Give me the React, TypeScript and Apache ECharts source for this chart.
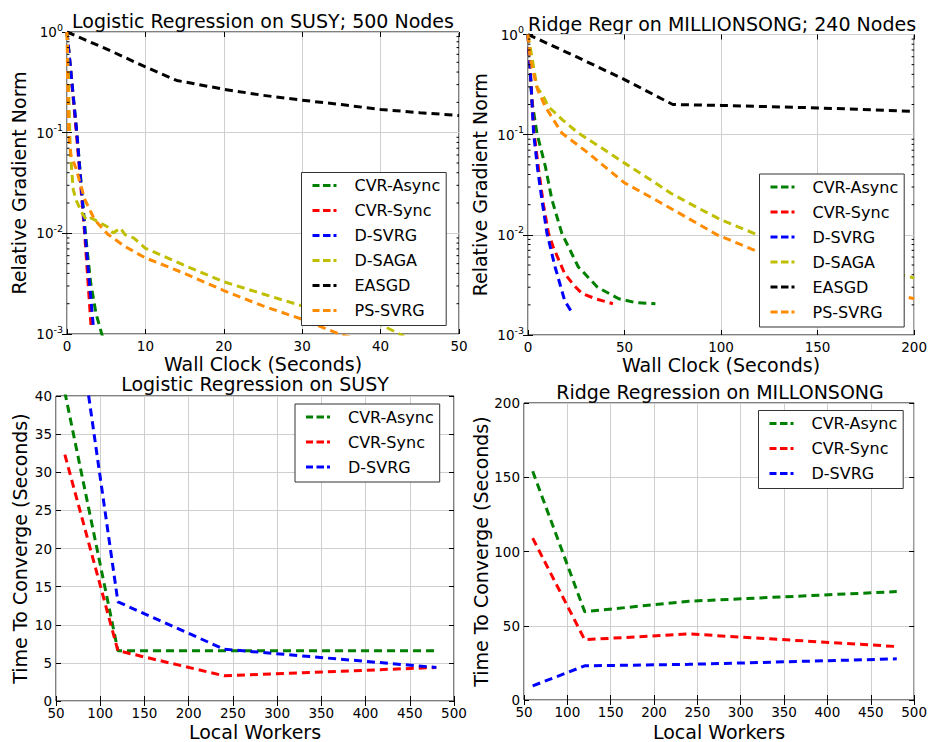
import React, { useEffect, useRef } from 'react';
import * as echarts from 'echarts';

const FONT = 'DejaVu Sans';

// ---------- data ----------
const algNames = ['CVR-Async', 'CVR-Sync', 'D-SVRG', 'D-SAGA', 'EASGD', 'PS-SVRG'];
const algColors = ['#008000', '#ff0000', '#0000ff', '#bfbf00', '#000000', '#ff8c00'];

const titles = [
  'Logistic Regression on SUSY; 500 Nodes',
  'Ridge Regr on MILLIONSONG; 240 Nodes',
  'Logistic Regression on SUSY',
  'Ridge Regression on MILLONSONG',
];

// Panel 1: SUSY, relative gradient norm vs wall clock (s)
const susyAsync = [[0, 1], [1.25, 0.1], [2.35, 0.01], [3.0, 0.0033], [3.7, 0.0016], [4.6, 0.0009]];
const susySync = [[0, 1], [1.2, 0.1], [2.25, 0.01], [3.1, 0.0011]];
const susyDsvrg = [[0, 1], [1.25, 0.1], [2.3, 0.01], [3.4, 0.0011]];
const susyDsaga = [[0, 1], [0.2, 0.3], [0.35, 0.1], [0.45, 0.06], [0.8, 0.027], [1.2, 0.021], [1.9, 0.016], [2.5, 0.0135],
  [3.1, 0.0142], [4, 0.013], [5.1, 0.0117], [5.9, 0.0101], [6.8, 0.0113], [7.4, 0.0097], [8.5, 0.009], [10, 0.0071],
  [15, 0.0048], [20, 0.0033], [25, 0.0025], [30, 0.0019], [35, 0.0015], [40, 0.00124], [43, 0.00095]];
const susyEasgd = [[0, 1], [5, 0.68], [10, 0.45], [14, 0.33], [20, 0.27], [25, 0.235], [30, 0.21], [35, 0.19], [40, 0.17], [45, 0.158], [50, 0.148]];
const susyPssvrg = [[0, 1], [0.1, 0.3], [0.2, 0.1], [0.5, 0.06], [1.2, 0.043], [1.6, 0.033], [2.3, 0.0215], [3.5, 0.0137],
  [5.2, 0.0098], [7.4, 0.0074], [10, 0.0057], [15, 0.004], [20, 0.0027], [25, 0.0019], [30, 0.0014], [35, 0.00098], [37, 0.0009]];

// Panel 2: MILLIONSONG, relative gradient norm vs wall clock (s)
const msAsync = [[0, 1], [2, 0.22], [4.6, 0.104], [9, 0.048], [12.4, 0.0224], [17.5, 0.0104], [26, 0.0048], [36, 0.003], [47, 0.0023], [56, 0.0021], [66, 0.00205]];
const msSync = [[0, 1], [1, 0.5], [3, 0.11], [5.5, 0.045], [8, 0.02], [10.6, 0.0104], [13, 0.0076], [19, 0.0041], [24, 0.0031], [28, 0.0026], [35, 0.0023], [44, 0.00205]];
const msDsvrg = [[0, 1], [1, 0.5], [2.9, 0.104], [5, 0.045], [7.2, 0.0224], [9.8, 0.0104], [14, 0.0048], [19, 0.0022], [23, 0.00165]];
const msDsaga = [[0, 1], [2, 0.6], [4.6, 0.3], [8, 0.24], [10.6, 0.19], [18, 0.14], [26, 0.104], [38, 0.074], [50, 0.052], [62, 0.037],
  [74, 0.026], [87, 0.019], [100, 0.0141], [119, 0.01], [140, 0.0071], [160, 0.0055], [180, 0.0045], [198, 0.0038], [200, 0.0037]];
const msEasgd = [[0, 1], [25, 0.6], [50, 0.355], [75, 0.2], [100, 0.196], [150, 0.185], [200, 0.171]];
const msPssvrg = [[0, 1], [1, 0.6], [2, 0.48], [5, 0.28], [9, 0.19], [17.5, 0.104], [31, 0.066], [50, 0.033], [66, 0.0224], [82, 0.015],
  [98, 0.01], [119, 0.0068], [140, 0.005], [160, 0.0039], [180, 0.003], [196, 0.0024], [200, 0.0023]];

// Panels 3/4: time to converge vs local workers
const workers = [60, 120, 240, 480];
const susyTimeAsync = [40.5, 6.6, 6.6, 6.6];
const susyTimeSync = [32.3, 6.6, 3.3, 4.4];
const susyTimeDsvrg = [62, 13, 6.8, 4.4];
const msTimeAsync = [154, 59.5, 66.5, 73];
const msTimeSync = [109, 40.6, 44.5, 36];
const msTimeDsvrg = [9.5, 23, 24, 27.7];

// minor tick positions of the log axes
const logMinorTicks = [
  0.002, 0.003, 0.004, 0.005, 0.006, 0.007, 0.008, 0.009,
  0.02, 0.03, 0.04, 0.05, 0.06, 0.07, 0.08, 0.09,
  0.2, 0.3, 0.4, 0.5, 0.6, 0.7, 0.8, 0.9,
];

// ---------- helpers ----------
const grids = [
  { left: 67, top: 32, width: 392, height: 302 },
  { left: 528, top: 34.5, width: 388, height: 300.5 },
  { left: 56, top: 396, width: 398, height: 307 },
  { left: 524, top: 403, width: 392, height: 300 },
];

const tickLabel = { color: '#000', fontFamily: FONT, fontSize: 13.5 };
const legendIcon = 'path://M0,0h7v3h-7zM10.5,0h7.5v3h-7.5zM21,0h3v3h-3z';

function lineSeries(name: string, data: number[][], idx: number) {
  const color = algColors[algNames.indexOf(name)];
  return {
    type: 'line',
    name,
    data,
    xAxisIndex: idx,
    yAxisIndex: idx,
    symbol: 'none',
    showSymbol: false,
    clip: true,
    lineStyle: { color, width: 3, type: [8, 5] },
    itemStyle: { color },
  };
}

function minorTickSeries(idx: number, xMin: number, xMax: number) {
  return {
    type: 'custom',
    xAxisIndex: idx,
    yAxisIndex: idx,
    silent: true,
    clip: false,
    z: 5,
    data: logMinorTicks.map((v) => [xMin, v]),
    renderItem: (_p: any, api: any) => {
      const y = api.value(1);
      const l = api.coord([xMin, y]);
      const r = api.coord([xMax, y]);
      return {
        type: 'group',
        children: [
          { type: 'line', shape: { x1: l[0], y1: l[1], x2: l[0] + 2.5, y2: l[1] }, style: { stroke: '#000', lineWidth: 1 } },
          { type: 'line', shape: { x1: r[0] - 2.5, y1: r[1], x2: r[0], y2: r[1] }, style: { stroke: '#000', lineWidth: 1 } },
        ],
      };
    },
  };
}

const pair = (xs: number[], ys: number[]) => xs.map((x, i) => [x, ys[i]]);

function supFormatter(v: number) {
  const e = Math.round(Math.log10(v));
  return `{b|10}{s|${e}}`;
}

export default function App() {
  const ref = useRef<HTMLDivElement>(null);
  useEffect(() => {
    if (!ref.current) return;
    const chart = echarts.init(ref.current, undefined, { renderer: 'svg' });

    const xSpecs = [
      { min: 0, max: 50, interval: 10, name: 'Wall Clock (Seconds)', gap: 20 },
      { min: 0, max: 200, interval: 50, name: 'Wall Clock (Seconds)', gap: 20 },
      { min: 50, max: 500, interval: 50, name: 'Local Workers', gap: 21 },
      { min: 50, max: 500, interval: 50, name: 'Local Workers', gap: 22 },
    ];
    const ySpecs: any[] = [
      { log: true, name: 'Relative Gradient Norm', gap: 39 },
      { log: true, name: 'Relative Gradient Norm', gap: 39 },
      { min: 0, max: 40, interval: 5, name: 'Time To Converge (Seconds)', gap: 27 },
      { min: 0, max: 200, interval: 50, name: 'Time To Converge (Seconds)', gap: 33 },
    ];

    const xAxis: any[] = [];
    const yAxis: any[] = [];
    xSpecs.forEach((s, i) => {
      xAxis.push({
        type: 'value', gridIndex: i, min: s.min, max: s.max, interval: s.interval, position: 'bottom',
        name: s.name, nameLocation: 'middle', nameGap: s.gap,
        nameTextStyle: { fontFamily: FONT, fontSize: 19, color: '#000', verticalAlign: 'top' },
        axisLine: { show: false },
        axisTick: { show: true, inside: true, length: 5, lineStyle: { color: '#000' } },
        axisLabel: { ...tickLabel, margin: 5 },
        splitLine: { show: true, lineStyle: { color: '#cfcfcf', width: 1 } },
      });
    });
    xSpecs.forEach((s, i) => {
      xAxis.push({
        type: 'value', gridIndex: i, min: s.min, max: s.max, interval: s.interval, position: 'top',
        axisLine: { show: false },
        axisTick: { show: true, inside: true, length: 5, lineStyle: { color: '#000' } },
        axisLabel: { show: false },
        splitLine: { show: false },
      });
    });
    ySpecs.forEach((s, i) => {
      const base: any = s.log
        ? { type: 'log', logBase: 10, min: 0.001, max: 1 }
        : { type: 'value', min: s.min, max: s.max, interval: s.interval };
      yAxis.push({
        ...base, gridIndex: i, position: 'left',
        name: s.name, nameLocation: 'middle', nameGap: s.gap,
        nameTextStyle: { fontFamily: FONT, fontSize: 19, color: '#000' },
        axisLine: { show: false },
        axisTick: { show: true, inside: true, length: 5, lineStyle: { color: '#000' } },
        axisLabel: s.log
          ? {
              margin: 4, formatter: supFormatter,
              rich: {
                b: { fontFamily: FONT, fontSize: 13.5, color: '#000', lineHeight: 20 },
                s: { fontFamily: FONT, fontSize: 9.5, color: '#000', lineHeight: 10, verticalAlign: 'top' },
              },
            }
          : { ...tickLabel, margin: 4 },
        splitLine: { show: true, lineStyle: { color: '#cfcfcf', width: 1 } },
      });
    });
    ySpecs.forEach((s, i) => {
      const base: any = s.log
        ? { type: 'log', logBase: 10, min: 0.001, max: 1 }
        : { type: 'value', min: s.min, max: s.max, interval: s.interval };
      yAxis.push({
        ...base, gridIndex: i, position: 'right',
        axisLine: { show: false },
        axisTick: { show: true, inside: true, length: 5, lineStyle: { color: '#000' } },
        axisLabel: { show: false },
        splitLine: { show: false },
      });
    });

    const series: any[] = [
      lineSeries('CVR-Async', susyAsync, 0),
      lineSeries('CVR-Sync', susySync, 0),
      lineSeries('D-SVRG', susyDsvrg, 0),
      lineSeries('D-SAGA', susyDsaga, 0),
      lineSeries('EASGD', susyEasgd, 0),
      lineSeries('PS-SVRG', susyPssvrg, 0),
      lineSeries('CVR-Async', msAsync, 1),
      lineSeries('CVR-Sync', msSync, 1),
      lineSeries('D-SVRG', msDsvrg, 1),
      lineSeries('D-SAGA', msDsaga, 1),
      lineSeries('EASGD', msEasgd, 1),
      lineSeries('PS-SVRG', msPssvrg, 1),
      lineSeries('CVR-Async', pair(workers, susyTimeAsync), 2),
      lineSeries('CVR-Sync', pair(workers, susyTimeSync), 2),
      lineSeries('D-SVRG', pair(workers, susyTimeDsvrg), 2),
      lineSeries('CVR-Async', pair(workers, msTimeAsync), 3),
      lineSeries('CVR-Sync', pair(workers, msTimeSync), 3),
      lineSeries('D-SVRG', pair(workers, msTimeDsvrg), 3),
      minorTickSeries(0, 0, 50),
      minorTickSeries(1, 0, 200),
    ];

    const legendCommon = {
      orient: 'vertical',
      selectedMode: false,
      icon: legendIcon,
      itemWidth: 24,
      itemHeight: 3,
      itemGap: 7,
      padding: [4, 6, 6, 11],
      borderColor: '#333',
      borderWidth: 1,
      borderRadius: 0,
      backgroundColor: '#fff',
      textStyle: { fontFamily: FONT, fontSize: 16, color: '#000', lineHeight: 18, padding: [0, 0, 0, 13] },
    };
    const legend = [
      { ...legendCommon, data: algNames, left: 301.5, top: 172.5 },
      { ...legendCommon, data: algNames, left: 759.5, top: 174 },
      { ...legendCommon, data: algNames.slice(0, 3), left: 295, top: 404 },
      { ...legendCommon, data: algNames.slice(0, 3), left: 758.5, top: 410.5 },
    ];

    const titleY = [20.5, 24, 384, 392];
    const graphic = grids.map((g, i) => ({
      type: 'text',
      x: g.left + g.width / 2,
      y: titleY[i],
      style: {
        text: titles[i], fontFamily: FONT, fontSize: 19, fill: '#000',
        align: 'center', verticalAlign: 'middle',
      },
    }));

    chart.setOption({
      animation: false,
      backgroundColor: '#fff',
      grid: grids.map((g) => ({ ...g, show: true, borderColor: '#000', borderWidth: 1, backgroundColor: 'transparent', containLabel: false })),
      xAxis,
      yAxis,
      legend,
      series,
      graphic,
    });
    return () => chart.dispose();
  }, []);
  return <div ref={ref} style={{ position: 'absolute', left: 0, top: 0, width: 930, height: 742 }} />;
}
